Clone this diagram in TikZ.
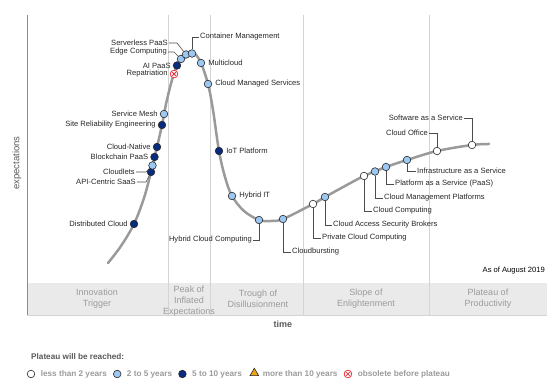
\documentclass[tikz,border=0pt]{standalone}
\usepackage{fontspec}
\setmainfont{Liberation Sans}
\usetikzlibrary{positioning, shapes.geometric}
\definecolor{curvegray}{HTML}{9A9A9A}
\definecolor{bandgray}{HTML}{EAEAEA}
\definecolor{sepgray}{HTML}{D4D4D4}
\definecolor{lightblue}{HTML}{9CC8F2}
\definecolor{navyblue}{HTML}{0A2C7E}
\definecolor{obsred}{HTML}{E8323C}
\definecolor{triorange}{HTML}{F2A413}
\definecolor{phasegray}{HTML}{9B9B9B}

\begin{document}
\begin{tikzpicture}[x=1pt, y=-1pt,
    dot/.style={circle, draw=black!85, line width=0.6pt, minimum size=7.6pt, inner sep=0pt},
    lessthantwo/.style={dot, fill=white},
    twotofive/.style={dot, fill=lightblue},
    fivetoten/.style={dot, fill=navyblue},
    obsolete/.style={circle, draw=obsred, fill=white, line width=0.8pt, minimum size=7.6pt, inner sep=0pt,
      path picture={\draw[obsred, line width=0.8pt]
        ([shift={(-1.8pt,-1.8pt)}]path picture bounding box.center) -- ([shift={(1.8pt,1.8pt)}]path picture bounding box.center)
        ([shift={(-1.8pt,1.8pt)}]path picture bounding box.center) -- ([shift={(1.8pt,-1.8pt)}]path picture bounding box.center);}},
    lbl/.style={font=\fontsize{7.6}{9}\selectfont, text=black!85, inner sep=1pt},
    leader/.style={draw=black!70, line width=0.6pt},
    phase/.style={font=\fontsize{9}{11}\selectfont, text=phasegray, align=center},
    legtext/.style={font=\fontsize{8.2}{10}\selectfont\bfseries, text=phasegray, inner sep=0pt}]
    \useasboundingbox (0,0) rectangle (547,379);
    % phase band and separators
    \fill[bandgray] (27,283) rectangle (547,315);
    \draw[sepgray, line width=0.8pt] (27,315) -- (547,315);
    \foreach \sx in {168,210,303,429}
        \draw[sepgray, line width=0.8pt] (\sx,15) -- (\sx,315);
    \draw[black!45, line width=0.8pt] (27,15) -- (27,315);
    % hype curve
    \draw[curvegray, line width=2.5pt, line cap=round] plot[smooth, tension=0.55] coordinates {
        (108,263) (121,246) (134,224) (144,198) (151,172) (157,147) (162,125) (166,104)
        (172,80) (177,66) (183,57) (189,53) (195,54) (201,63) (208,84) (213,110)
        (219,151) (225,177) (232,196) (244,211) (259,220) (271,221) (283,219)
        (313,204) (325,197) (345,186) (364,176) (386,167) (407,160) (437,151) (472,145) (489,144)};
    % technologies on the curve
    \node[fivetoten] (dcloud) at (134,224) {};
    \node[fivetoten] (apisaas) at (151,172) {};
    \node[twotofive] (cloudlets) at (152.5,165.5) {};
    \node[fivetoten] (blockchain) at (154.5,157) {};
    \node[fivetoten] (cnative) at (157,147) {};
    \node[fivetoten] (sre) at (162,125) {};
    \node[twotofive] (smesh) at (164,114) {};
    \node[obsolete] (repat) at (174,74) {};
    \node[fivetoten] (aipaas) at (177,65.5) {};
    \node[twotofive] (edge) at (181,59) {};
    \node[twotofive] (serverless) at (186,54.5) {};
    \node[twotofive] (container) at (192,53.5) {};
    \node[twotofive] (multicloud) at (201,63) {};
    \node[twotofive] (cms) at (208,84) {};
    \node[fivetoten] (iot) at (219,151) {};
    \node[twotofive] (hybridit) at (232,196) {};
    \node[twotofive] (hcc) at (259,220) {};
    \node[twotofive] (cburst) at (283,219) {};
    \node[lessthantwo] (pcc) at (313,204) {};
    \node[twotofive] (casb) at (325,197) {};
    \node[lessthantwo] (ccomp) at (364,176) {};
    \node[twotofive] (cmp) at (375,171.5) {};
    \node[twotofive] (paas) at (386,167) {};
    \node[twotofive] (iaas) at (407,160) {};
    \node[lessthantwo] (coffice) at (437,151) {};
    \node[lessthantwo] (saas) at (472,145) {};
    % labels next to the dots
    \node[lbl, left=1pt of dcloud] {Distributed Cloud};
    \node[lbl, left=1pt of blockchain] {Blockchain PaaS};
    \node[lbl, left=1pt of cnative] {Cloud-Native};
    \node[lbl, left=1pt of sre] {Site Reliability Engineering};
    \node[lbl, left=1pt of smesh] {Service Mesh};
    \node[lbl, left=1pt of repat] {Repatriation};
    \node[lbl, left=1pt of aipaas] {AI PaaS};
    \node[lbl, right=2pt of multicloud] {Multicloud};
    \node[lbl, right=2pt of cms] {Cloud Managed Services};
    \node[lbl, right=2pt of iot] {IoT Platform};
    \node[lbl, right=2pt of hybridit] {Hybrid IT};
    % labels with leaders
    \node[lbl, anchor=east] (cloudletsl) at (136,172) {Cloudlets};
    \node[lbl, anchor=east] (apisaasl) at (137,182) {API-Centric SaaS};
    \node[lbl, anchor=east] (edgel) at (168,52) {Edge Computing};
    \node[lbl, anchor=east] (serverlessl) at (169,43) {Serverless PaaS};
    \node[lbl, anchor=west] (containerl) at (199,37) {Container Management};
    \node[lbl, anchor=east] (hccl) at (253,240) {Hybrid Cloud Computing};
    \node[lbl, anchor=west] (cburstl) at (291,252) {Cloudbursting};
    \node[lbl, anchor=west] (pccl) at (321,238) {Private Cloud Computing};
    \node[lbl, anchor=west] (casbl) at (332,225) {Cloud Access Security Brokers};
    \node[lbl, anchor=west] (ccompl) at (372,211) {Cloud Computing};
    \node[lbl, anchor=west] (cmpl) at (383,198) {Cloud Management Platforms};
    \node[lbl, anchor=west] (paasl) at (394,184) {Platform as a Service (PaaS)};
    \node[lbl, anchor=west] (iaasl) at (416,171) {Infrastructure as a Service};
    \node[lbl, anchor=east] (cofficel) at (429,133) {Cloud Office};
    \node[lbl, anchor=east] (saasl) at (464,118) {Software as a Service};
    \draw[leader] (cloudletsl.east) -- (146,172) -- (cloudlets);
    \draw[leader] (apisaasl.east) -- (146,182) -- (apisaas);
    \draw[leader] (edgel.east) -- (174,52) -- (edge);
    \draw[leader] (serverlessl.east) -- (177,43) -- (serverless);
    \draw[leader] (container) |- (containerl);
    \draw[leader] (hcc) |- (hccl);
    \draw[leader] (cburst) |- (cburstl);
    \draw[leader] (pcc) |- (pccl);
    \draw[leader] (casb) |- (casbl);
    \draw[leader] (ccomp) |- (ccompl);
    \draw[leader] (cmp) |- (cmpl);
    \draw[leader] (paas) |- (paasl);
    \draw[leader] (iaas) |- (iaasl);
    \draw[leader] (coffice) |- (cofficel);
    \draw[leader] (saas) |- (saasl);
    % axes and phases
    \node[font=\fontsize{9.5}{11}\selectfont, text=black!65, rotate=90] (expect) at (17,163) {expectations};
    \node[font=\fontsize{9}{11}\selectfont\bfseries, text=black!65] (time) at (283,324) {time};
    \node[lbl, anchor=east, text=black] (asof) at (546,271) {As of August 2019};
    \node[phase] (trigger) at (97,299) {Innovation\\Trigger};
    \node[phase] (peak) at (189,301) {Peak of\\Inflated\\Expectations};
    \node[phase] (trough) at (258,299) {Trough of\\Disillusionment};
    \node[phase] (slope) at (366,299) {Slope of\\Enlightenment};
    \node[phase] (plateau) at (488,299) {Plateau of\\Productivity};
    % legend
    \node[legtext, anchor=west, text=black!65] (legtitle) at (31,357) {Plateau will be reached:};
    \node[lessthantwo] (lg1) at (31,374) {};
    \node[legtext, right=5.5pt of lg1] (lt1) {less than 2 years};
    \node[twotofive, right=6pt of lt1] (lg2) {};
    \node[legtext, right=5.5pt of lg2] (lt2) {2 to 5 years};
    \node[fivetoten, right=6pt of lt2] (lg3) {};
    \node[legtext, right=5.5pt of lg3] (lt3) {5 to 10 years};
    \node[regular polygon, regular polygon sides=3, draw=black!85, fill=triorange, line width=0.6pt,
        minimum size=10pt, inner sep=0pt, right=9pt of lt3, yshift=0.8pt] (lg4) {};
    \node[legtext, right=5pt of lg4, yshift=-0.8pt] (lt4) {more than 10 years};
    \node[obsolete, right=6pt of lt4] (lg5) {};
    \node[legtext, right=5.5pt of lg5] (lt5) {obsolete before plateau};
\end{tikzpicture}
\end{document}
